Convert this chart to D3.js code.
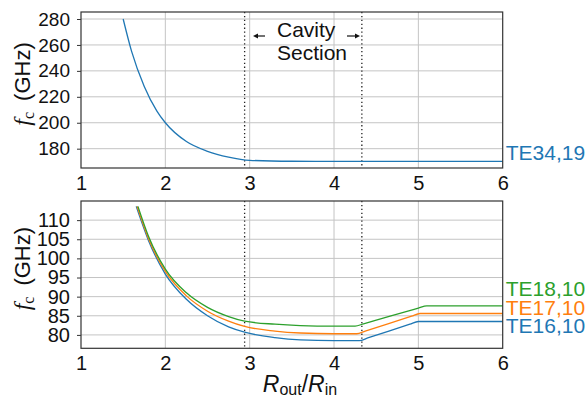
<!DOCTYPE html>
<html>
<head>
<meta charset="utf-8">
<script src="https://cdn.jsdelivr.net/npm/d3@7"></script>
<style>
  body { margin: 0; background: #fff; }
  text { font-family: "Liberation Sans", Arial, Helvetica, sans-serif; }
</style>
</head>
<body>
<svg id="chart" width="587" height="398"></svg>
<script>
// x values (R_out/R_in) and cutoff frequencies
let xTicks = [1, 2, 3, 4, 5, 6];
let topTicks = [180, 200, 220, 240, 260, 280];
let botTicks = [80, 85, 90, 95, 100, 105, 110];
let cavityEdges = [2.94, 4.33];

let te3419x = [1.5, 1.6, 1.75, 1.9, 2.0, 2.25, 2.5, 2.75, 3.0, 3.5, 4.0, 6.0];
let te3419y = [280, 255, 228, 209, 200, 185.5, 178, 173.5, 171, 170.3, 170.2, 170.2];

let te1610x = [1.655, 1.8, 2.0, 2.25, 2.5, 2.75, 2.94, 3.3, 3.6, 4.0, 4.3, 4.4, 4.9, 5.0, 6.0];
let te1610y = [113.6, 104.7, 95.9, 89.3, 85.0, 82.1, 80.7, 79.3, 78.7, 78.5, 78.5, 79.2, 82.8, 83.5, 83.5];
let te1710x = [1.665, 1.8, 2.0, 2.25, 2.5, 2.75, 2.94, 3.3, 3.6, 4.0, 4.27, 4.37, 4.92, 5.02, 6.0];
let te1710y = [113.6, 105.2, 96.6, 90.2, 86.2, 83.6, 82.2, 81.0, 80.5, 80.3, 80.3, 81.0, 84.9, 85.6, 85.6];
let te1810x = [1.675, 1.8, 2.0, 2.25, 2.5, 2.75, 2.94, 3.3, 3.6, 4.0, 4.25, 4.35, 5.0, 5.1, 6.0];
let te1810y = [113.6, 105.8, 97.2, 91.0, 87.2, 84.8, 83.6, 82.8, 82.45, 82.3, 82.3, 82.9, 87.0, 87.6, 87.6];

let bottomSeries = [
  {name: 'TE16,10', xs: te1610x, ys: te1610y, color: '#1f77b4', dy: 11},
  {name: 'TE17,10', xs: te1710x, ys: te1710y, color: '#ff7f0e', dy: 2},
  {name: 'TE18,10', xs: te1810x, ys: te1810y, color: '#2ca02c', dy: -10}
];

let svg = d3.select('#chart');
let left = 81, right = 502.7;

let x = d3.scaleLinear().domain([1, 6]).range([left, right]);
let yTop = d3.scaleLinear().domain([165.1, 285.4]).range([168, 12]);
let yBot = d3.scaleLinear().domain([76.5, 115]).range([348.3, 201]);

let gridColor = '#c4c4c4';

function drawPanel(y, ticks, series, tickFont){
    let g = svg.append('g');
    let [y0, y1] = y.range();

    // grid
    g.selectAll('.vgrid').data(xTicks.slice(1, -1)).join('line')
      .attr('x1', d => x(d)).attr('x2', d => x(d))
      .attr('y1', y1).attr('y2', y0)
      .attr('stroke', gridColor).attr('stroke-width', 1);
    g.selectAll('.hgrid').data(ticks).join('line')
      .attr('x1', left).attr('x2', right)
      .attr('y1', d => y(d)).attr('y2', d => y(d))
      .attr('stroke', gridColor).attr('stroke-width', 1);

    // cavity section markers
    g.selectAll('.edge').data(cavityEdges).join('line')
      .attr('x1', d => x(d)).attr('x2', d => x(d))
      .attr('y1', y1).attr('y2', y0)
      .attr('stroke', '#222').attr('stroke-width', 1.3)
      .attr('stroke-dasharray', '1.3,2.6');

    // curves
    let line = d3.line()
      .x(d => x(d[0])).y(d => y(d[1]))
      .curve(d3.curveMonotoneX);
    series.forEach(s => {
        g.append('path')
          .attr('d', line(d3.zip(s.xs, s.ys)))
          .attr('fill', 'none')
          .attr('stroke', s.color)
          .attr('stroke-width', 1.3);
        g.append('text')
          .attr('x', right + 3)
          .attr('y', y(s.ys[s.ys.length - 1]) + s.dy)
          .attr('fill', s.color)
          .attr('font-size', 21)
          .text(s.name);
    });

    // frame
    g.append('rect')
      .attr('x', left).attr('y', y1)
      .attr('width', right - left).attr('height', y0 - y1)
      .attr('fill', 'none').attr('stroke', '#333').attr('stroke-width', 1.2);

    // axes
    let ay = g.append('g').attr('transform', `translate(${left},0)`)
      .call(d3.axisLeft(y).tickValues(ticks).tickSize(4).tickPadding(7));
    ay.select('.domain').remove();
    ay.selectAll('text').attr('font-size', tickFont).attr('fill', '#111')
      .attr('font-family', '"Liberation Sans", Arial, sans-serif');
    ay.selectAll('line').attr('stroke', '#333');

    let ax = g.append('g').attr('transform', `translate(0,${y0})`)
      .call(d3.axisBottom(x).tickValues(xTicks).tickFormat(d3.format('d'))
        .tickSize(0).tickPadding(8));
    ax.select('.domain').remove();
    ax.selectAll('text').attr('font-size', 20).attr('fill', '#111')
      .attr('font-family', '"Liberation Sans", Arial, sans-serif');

    // y label
    let lab = g.append('text')
      .attr('transform', `translate(30,${(y0 + y1) / 2 - 6}) rotate(-90)`)
      .attr('text-anchor', 'middle')
      .attr('font-size', 22)
      .attr('fill', '#111');
    lab.append('tspan').attr('font-family', '"Liberation Serif", serif')
      .attr('font-style', 'italic').attr('font-size', 24).text('f');
    lab.append('tspan').attr('font-family', '"Liberation Serif", serif')
      .attr('font-size', 16).attr('dy', 4).text('c');
    lab.append('tspan').attr('dy', -4).text('\u2002(GHz)');
    return g;
}

drawPanel(yTop, topTicks, [{name: 'TE34,19', xs: te3419x, ys: te3419y, color: '#1f77b4', dy: -1}], 19);
drawPanel(yBot, botTicks, bottomSeries, 20);

// cavity annotation
svg.append('text').attr('x', 277).attr('y', 36.5).attr('font-size', 21).attr('fill', '#111').text('Cavity');
svg.append('text').attr('x', 277).attr('y', 60).attr('font-size', 21).attr('fill', '#111').text('Section');

function arrow(x1, x2, yy){
    let dir = Math.sign(x2 - x1);
    svg.append('line').attr('x1', x1).attr('x2', x2 - dir * 2).attr('y1', yy).attr('y2', yy)
      .attr('stroke', '#111').attr('stroke-width', 1.2);
    svg.append('path')
      .attr('d', `M${x2},${yy} L${x2 - dir * 5},${yy - 2.5} L${x2 - dir * 5},${yy + 2.5} Z`)
      .attr('fill', '#111');
}
arrow(265, 253, 36);
arrow(347, 360, 36);

// x label
let xl = svg.append('text')
  .attr('x', 300).attr('y', 392)
  .attr('text-anchor', 'middle')
  .attr('font-family', '"Liberation Serif", serif')
  .attr('font-size', 23).attr('fill', '#111');
xl.append('tspan').attr('font-style', 'italic').text('R');
xl.append('tspan').attr('font-size', 16).attr('dy', 3).text('out');
xl.append('tspan').attr('dy', -3).text('/');
xl.append('tspan').attr('font-style', 'italic').text('R');
xl.append('tspan').attr('font-size', 16).attr('dy', 3).text('in');
</script>
</body>
</html>
